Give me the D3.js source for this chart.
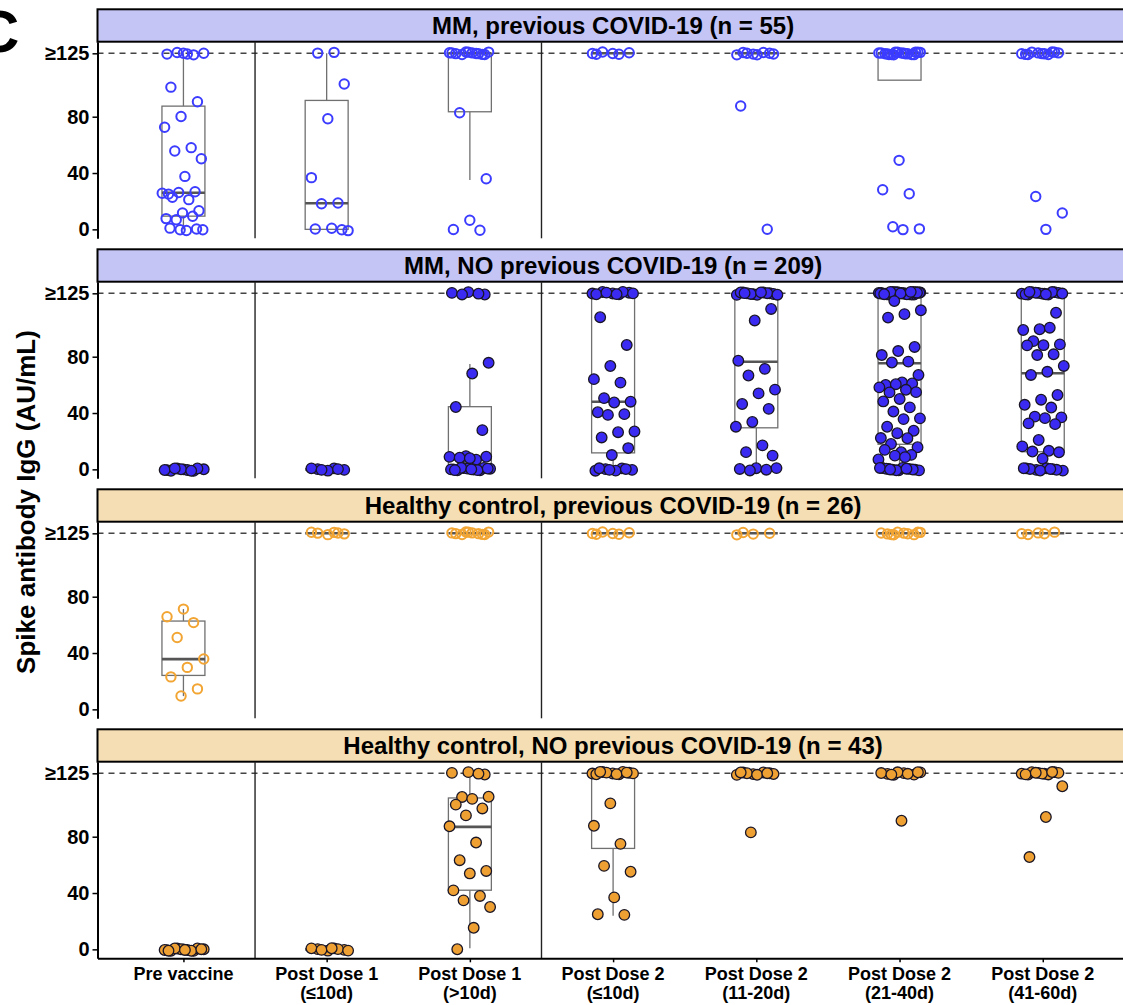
<!DOCTYPE html>
<html>
<head>
<meta charset="utf-8">
<script src="https://cdn.jsdelivr.net/npm/d3@7"></script>
<style>
body { margin: 0; background: #fff; }
svg { display: block; font-family: "Liberation Sans", Arial, Helvetica, sans-serif; }
</style>
</head>
<body>
<svg id="chart" width="1123" height="1005"></svg>
<script>
// repeat one value (stacked points at a cap)
const rep = (v, n) => Array(n).fill(v);

const categories = [
    'Pre vaccine',
    'Post Dose 1\n(≤10d)',
    'Post Dose 1\n(>10d)',
    'Post Dose 2\n(≤10d)',
    'Post Dose 2\n(11-20d)',
    'Post Dose 2\n(21-40d)',
    'Post Dose 2\n(41-60d)'
];

const panelTitles = [
    'MM, previous COVID-19 (n = 55)',
    'MM, NO previous COVID-19 (n = 209)',
    'Healthy control, previous COVID-19 (n = 26)',
    'Healthy control, NO previous COVID-19 (n = 43)'
];

const yTicks = [0, 40, 80, 125];
const yTickLabels = ['0', '40', '80', '≥125'];

// values per category, one array per panel
const mmPrev = [
    [...rep(125, 6), 102, 90, 80, 73, 59, 55, 50, 38, 26, 26, 26, 26, 22, 22, 13, 12, 8.5, 8.5, 6.6, 0, 0, 0, 0, 0],
    [125, 125, 103.6, 79.5, 36, 18.5, 18.5, 0, 0, 0, 0],
    [...rep(125, 12), 83.5, 35, 6, 0, 0],
    rep(125, 6),
    [...rep(125, 8), 87, 0],
    [...rep(125, 18), 48.7, 28.4, 26, 1, 0, 0],
    [...rep(125, 11), 23, 11.8, 0.7]
];

const mmNoPrev = [
    rep(0, 12),
    rep(0, 7),
    [...rep(125, 5), 74.8, 67.7, 44.5, 28.6, 8.5, 8.5, 7, 9, 8, 7.5, ...rep(0, 14)],
    [...rep(125, 10), 107, 87.8, 73.4, 64.6, 62.7, 50, 48, 48, 41.6, 38.6, 38.6, 27.4, 27.4, 22, 15, 10.6, ...rep(0, 8)],
    [...rep(125, 14), 114.3, 106.7, 76.4, 71.2, 67, 57.5, 53.2, 46.2, 43.3, 34.5, 29.5, 16.8, 12.5, 10.6, ...rep(0, 5)],
    [...rep(125, 34), 119, 113, 110.8, 106.7, 86.4, 84, 81.7, 77.6, 75.3, 67, 62.2, 61, 60.4, 60.4, 58.7, 57.5, 54, 54.7,
        50.4, 49.2, 43.3, 40.9, 36.6, 36.6, 29.5, 27.2, 26, 23.1, 21.3, 17.8, 16, 13, 13, 10, 10, 7.8, 7.8, ...rep(0, 14)],
    [...rep(125, 15), 110.8, 99.6, 99.6, 99.6, 90.6, 88.8, 88.8, 87, 81.2, 81.2, 74, 68.2, 66.5, 52.8, 50, 46.9, 43.3,
        37.4, 37.4, 37.4, 32, 32, 21.3, 17.3, 12.5, 12.5, 12.5, 8.5, ...rep(0, 10)]
];

const hcPrev = [
    [71.2, 66.3, 62.7, 50.4, 35.7, 30.3, 24.1, 13.9, 9.4],
    rep(125, 6),
    rep(125, 10),
    rep(125, 6),
    rep(125, 4),
    rep(125, 10),
    rep(125, 5)
];

const hcNoPrev = [
    rep(0, 15),
    rep(0, 9),
    [...rep(125, 4), 109, 107.5, 106.5, 103, 100.8, 94.2, 87, 76, 64, 54.7, 53.5, 42, 38.6, 33.8, 29.6, 15.4, 0.7],
    [...rep(125, 12), 103.7, 88.3, 76, 58.7, 55.1, 37.4, 26, 23.9],
    [...rep(125, 10), 83.5],
    [...rep(125, 10), 91.1],
    [...rep(125, 12), 116, 94.7, 64.6]
];

const panels = [
    { title: panelTitles[0], values: mmPrev, strip: '#c5c5f5', color: '#3c3cff', filled: false },
    { title: panelTitles[1], values: mmNoPrev, strip: '#c5c5f5', color: '#3a2af2', filled: true },
    { title: panelTitles[2], values: hcPrev, strip: '#f5deb3', color: '#f2a533', filled: false },
    { title: panelTitles[3], values: hcNoPrev, strip: '#f5deb3', color: '#eea032', filled: true }
];

const svg = d3.select('#chart');

const panelStart = 9.3;
const panelStep = 240;
const stripH = 32.4;
const plotH = 196.6;

// discrete positions 1..7 with ggplot's 0.6 expansion
const x = d3.scaleLinear().domain([0.4, 7.6]).range([97.5, 1128.7]);
const boxHalf = 0.15;
const jitterHalf = 0.15;

function boxStats(vals) {
    const s = vals.slice().sort(d3.ascending);
    const q1 = d3.quantileSorted(s, 0.25);
    const med = d3.quantileSorted(s, 0.5);
    const q3 = d3.quantileSorted(s, 0.75);
    const iqr = q3 - q1;
    // whiskers never fold back inside the box
    const lo = Math.min(q1, d3.min(s.filter(v => v >= q1 - 1.5 * iqr)));
    const hi = Math.max(q3, d3.max(s.filter(v => v <= q3 + 1.5 * iqr)));
    return { q1, med, q3, lo, hi };
}

// deterministic jitter (golden-ratio sequence) instead of random noise
const jx = (i, c) => ((0.5 + i * 0.6180339887 + c * 0.173) % 1 - 0.5) * 2 * jitterHalf;
const jy = (i, c) => ((0.5 + i * 0.7548776662 + c * 0.311) % 1 - 0.5) * 2.2;

panels.forEach((p, pi) => {
    const top = panelStart + pi * panelStep;
    const plotTop = top + stripH;
    const plotBottom = plotTop + plotH;
    const y = d3.scaleLinear().domain([-6.35, 133.25]).range([plotBottom, plotTop]);
    const g = svg.append('g');

    // strip
    g.append('rect')
        .attr('x', x(0.4))
        .attr('y', top)
        .attr('width', x(7.6) - x(0.4))
        .attr('height', stripH)
        .attr('fill', p.strip)
        .attr('stroke', '#000')
        .attr('stroke-width', 2);

    g.append('text')
        .attr('x', (x(0.4) + x(7.6)) / 2)
        .attr('y', top + 24.5)
        .attr('text-anchor', 'middle')
        .attr('font-size', 24)
        .attr('font-weight', 'bold')
        .attr('fill', '#000')
        .text(p.title);

    // cap line
    g.append('line')
        .attr('x1', x(0.4)).attr('x2', x(7.6))
        .attr('y1', y(125)).attr('y2', y(125))
        .attr('stroke', '#444')
        .attr('stroke-width', 1.5)
        .attr('stroke-dasharray', '6,5');

    // separators between Pre / Dose 1 / Dose 2
    [1.5, 3.5].forEach(s => {
        g.append('line')
            .attr('x1', x(s)).attr('x2', x(s))
            .attr('y1', plotTop).attr('y2', plotBottom)
            .attr('stroke', '#222')
            .attr('stroke-width', 1.4);
    });

    // boxplots
    p.values.forEach((vals, c) => {
        const st = boxStats(vals);
        const cx = x(c + 1);
        const bx = x(c + 1 - boxHalf);
        const bw = x(c + 1 + boxHalf) - bx;
        const bg = g.append('g').attr('stroke', '#707070').attr('fill', 'none');
        bg.append('line').attr('x1', cx).attr('x2', cx).attr('y1', y(st.q3)).attr('y2', y(st.hi)).attr('stroke-width', 1.3);
        bg.append('line').attr('x1', cx).attr('x2', cx).attr('y1', y(st.q1)).attr('y2', y(st.lo)).attr('stroke-width', 1.3);
        bg.append('rect')
            .attr('x', bx).attr('y', y(st.q3))
            .attr('width', bw).attr('height', Math.max(0, y(st.q1) - y(st.q3)))
            .attr('stroke-width', 1.3);
        bg.append('line')
            .attr('x1', bx).attr('x2', bx + bw)
            .attr('y1', y(st.med)).attr('y2', y(st.med))
            .attr('stroke', '#555')
            .attr('stroke-width', 2.6);
    });

    // jittered points
    p.values.forEach((vals, c) => {
        g.append('g').selectAll('circle')
            .data(vals)
            .enter().append('circle')
            .attr('cx', (d, i) => x(c + 1 + jx(i, c)))
            .attr('cy', (d, i) => y(d + jy(i, c)))
            .attr('r', p.filled ? 5.3 : 4.7)
            .attr('fill', p.filled ? p.color : 'none')
            .attr('stroke', p.filled ? '#1a1626' : p.color)
            .attr('stroke-width', p.filled ? 1.3 : 2);
    });

    // y axis
    const yAxis = d3.axisLeft(y)
        .tickValues(yTicks)
        .tickFormat((d, i) => yTickLabels[i])
        .tickSize(5)
        .tickSizeOuter(0)
        .tickPadding(3);

    const ax = g.append('g')
        .attr('transform', `translate(${x(0.4)},0)`)
        .call(yAxis)
        .attr('font-family', null)
        .attr('font-size', 20)
        .attr('font-weight', 'bold');
    ax.select('.domain').attr('stroke', '#000').attr('stroke-width', 2);
    ax.selectAll('.tick line').attr('stroke', '#000').attr('stroke-width', 1.5);
    ax.selectAll('.tick text').attr('fill', '#000');

    // x axis only under the last panel
    if (pi === panels.length - 1) {
        const xAxis = d3.axisBottom(x)
            .tickValues(d3.range(1, 8))
            .tickFormat('')
            .tickSize(4)
            .tickSizeOuter(0);
        const xg = g.append('g')
            .attr('transform', `translate(0,${plotBottom})`)
            .call(xAxis);
        xg.select('.domain').attr('stroke', '#000').attr('stroke-width', 2);
        xg.selectAll('.tick line').attr('stroke', '#000').attr('stroke-width', 1.5);

        categories.forEach((cat, c) => {
            const t = g.append('text')
                .attr('x', x(c + 1))
                .attr('y', plotBottom + 22)
                .attr('text-anchor', 'middle')
                .attr('font-size', 18)
                .attr('font-weight', 'bold')
                .attr('fill', '#000');
            cat.split('\n').forEach((line, li) => {
                t.append('tspan')
                    .attr('x', x(c + 1))
                    .attr('dy', li === 0 ? 0 : 18.5)
                    .text(line);
            });
        });
    }
});

// y axis title
svg.append('text')
    .attr('transform', 'translate(35,502) rotate(-90)')
    .attr('text-anchor', 'middle')
    .attr('font-size', 26)
    .attr('font-weight', 'bold')
    .attr('fill', '#000')
    .text('Spike antibody IgG (AU/mL)');

// panel letter, cut by the left edge as in the source figure
svg.append('text')
    .attr('x', -24)
    .attr('y', 52)
    .attr('font-size', 60)
    .attr('font-weight', 'bold')
    .attr('fill', '#000')
    .text('C');
</script>
</body>
</html>
